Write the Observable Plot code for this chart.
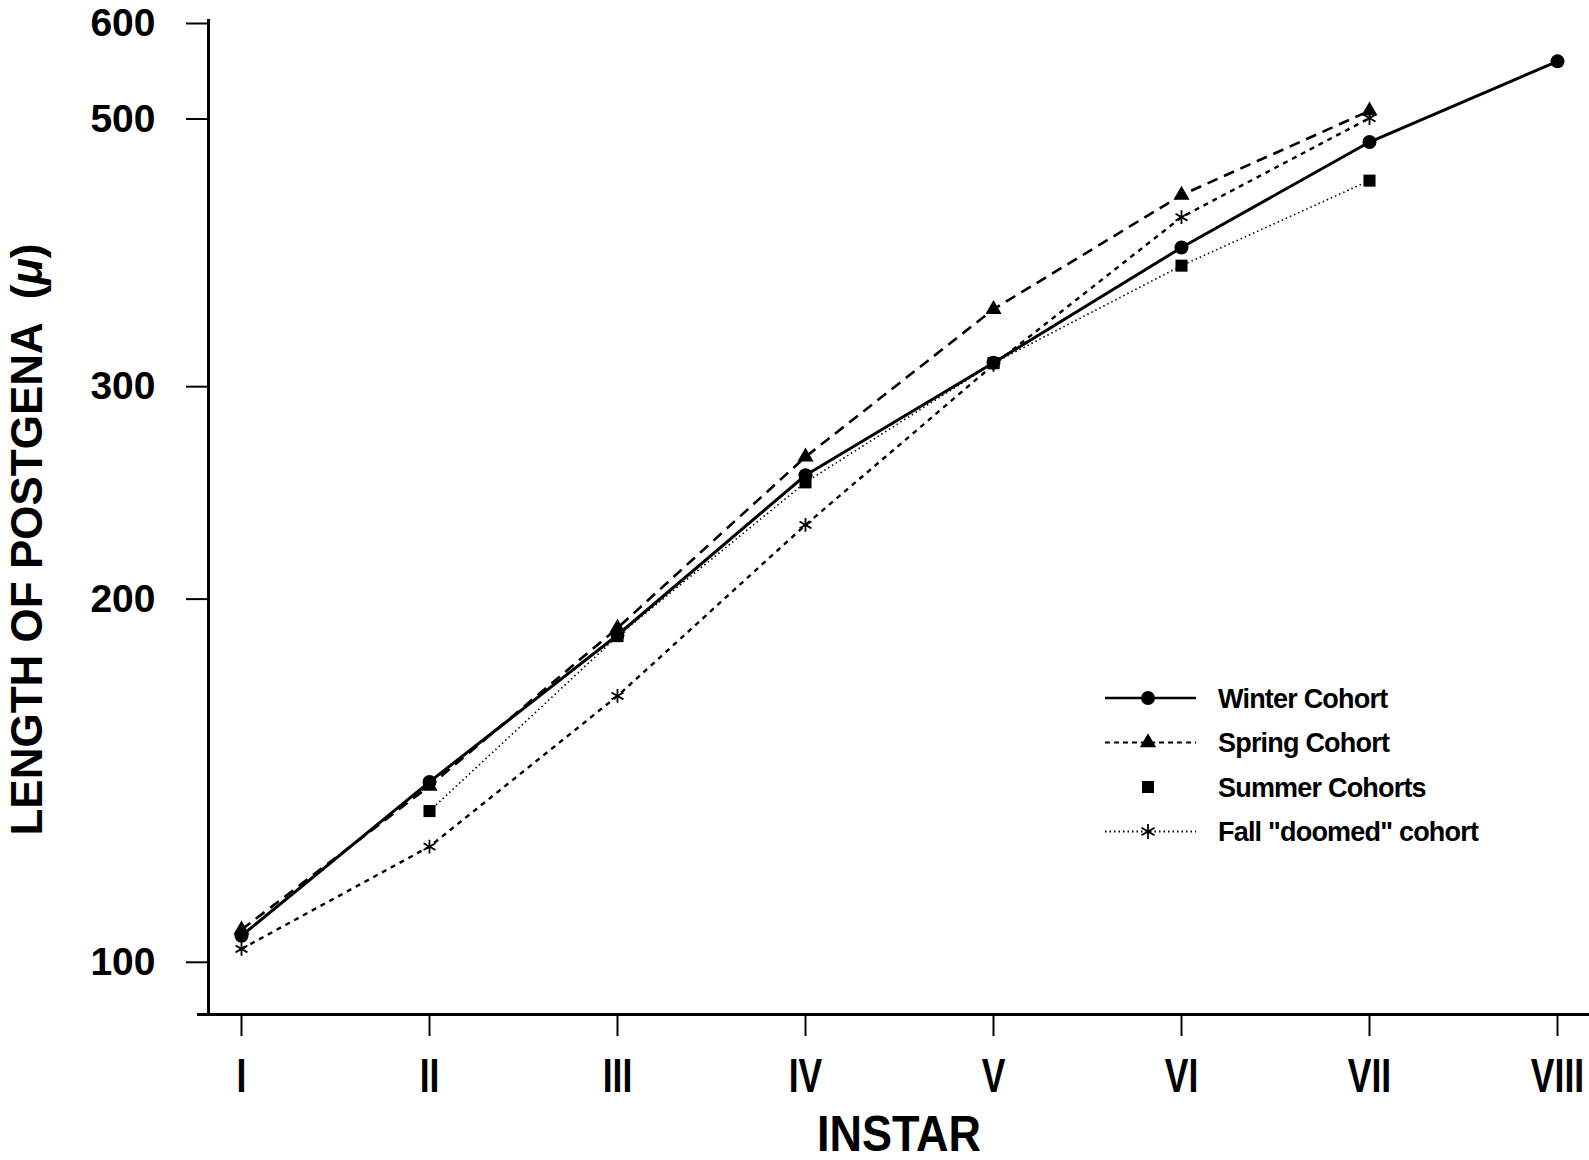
<!DOCTYPE html>
<html>
<head>
<meta charset="utf-8">
<script src="https://cdn.jsdelivr.net/npm/d3@7"></script>
<script src="https://cdn.jsdelivr.net/npm/@observablehq/plot@0.6"></script>
<style>
  html, body { margin: 0; padding: 0; background: white; }
  #wrap { position: relative; width: 1589px; height: 1160px; }
  #legend { position: absolute; left: 0; top: 0; pointer-events: none; }
</style>
</head>
<body>
<div id="wrap"></div>
<script>
// ---- data ----
const instars = ["I", "II", "III", "IV", "V", "VI", "VII", "VIII"];
const yTicks = [100, 200, 300, 500, 600];
const seriesNames = ["Winter Cohort", "Spring Cohort", "Summer Cohorts", "Fall \"doomed\" cohort"];
const winter = [104.6, 140.3, 185.7, 251.9, 312.2, 389, 475.8, 555];
const spring = [105.8, 139.2, 188.2, 260.9, 345.8, 430, 505];
const summer = [null, 132.7, 185.3, 248.5, 312, 375.8, 442];
const fall   = [102, 124, 165.3, 229.1, 311, 412.2, 498];
const seriesValues = [winter, spring, summer, fall];

// ---- styles (not data) ----
const styles = [
  {symbol: "circle",   r: 7,   fill: "black", stroke: "none", lw: 3,   dash: null,   legendDash: null,  legendLine: true},
  {symbol: "triangle", r: 6,   fill: "black", stroke: "none", lw: 2.6, dash: "11,7", legendDash: "5,4", legendLine: true},
  {symbol: "square",   r: 6.8, fill: "black", stroke: "none", lw: 1.6, dash: "1.5,3", legendDash: null, legendLine: false},
  {symbol: "asterisk", r: 6.5, fill: "none",  stroke: "black", lw: 2.4, dash: "5,5", legendDash: "1.5,3", legendLine: true}
];

const rows = [];
seriesNames.forEach((name, s) => {
  seriesValues[s].forEach((v, i) => {
    if (v != null) rows.push({series: name, s, instar: instars[i], value: v});
  });
});

const marks = [
  Plot.axisY(yTicks, {
    tickSize: 22, tickPadding: 31, fontSize: 39, fontWeight: "bold",
    tickFormat: d => String(d), strokeWidth: 2, label: null, dy: 3
  }),
  Plot.axisX({
    tickSize: 22, tickPadding: 21, fontSize: 48, fontWeight: "bold",
    strokeWidth: 2, label: null, className: "xticks"
  }),
  Plot.ruleY([90], {strokeWidth: 3, insetLeft: -11}),
  Plot.frame({anchor: "left", strokeWidth: 3}),
  Plot.text(["LENGTH OF POSTGENA  (μ)"], {
    frameAnchor: "left", rotate: -90, dx: -181, dy: 22,
    fontSize: 44, fontWeight: "bold", textAnchor: "middle", lineAnchor: "middle"
  }),
  Plot.text(["INSTAR"], {
    frameAnchor: "bottom", dy: 120, fontSize: 50, fontWeight: "bold",
    lineAnchor: "middle", textAnchor: "middle", className: "xtitle"
  })
];

// lines (draw lighter lines first)
[2, 3, 1, 0].forEach(s => {
  const st = styles[s];
  marks.push(Plot.line(rows.filter(d => d.s === s), {
    x: "instar", y: "value", stroke: "black", strokeWidth: st.lw,
    strokeDasharray: st.dash || undefined, strokeLinecap: "butt"
  }));
});
[2, 3, 1, 0].forEach(s => {
  const st = styles[s];
  marks.push(Plot.dot(rows.filter(d => d.s === s), {
    x: "instar", y: "value", symbol: st.symbol, r: st.r,
    fill: st.fill, stroke: st.stroke, strokeWidth: st.stroke === "none" ? 0 : 1.8
  }));
});

const chart = Plot.plot({
  width: 1589, height: 1160,
  marginLeft: 208, marginRight: 0, marginTop: 20, marginBottom: 146,
  style: {fontFamily: "'Liberation Sans', Arial, sans-serif", background: "white", color: "black"},
  x: {type: "point", domain: instars, range: [240, 1558], padding: 0},
  y: {type: "log", domain: [90, 600]},
  marks
});
document.getElementById("wrap").appendChild(chart);

// condense the x tick labels and x title (narrow typeface in the reference)
function condense(sel, k) {
  sel.each(function() {
    const t = d3.select(this);
    const tr = t.attr("transform") || "";
    t.attr("transform", tr + ` scale(${k},1)`);
  });
}
d3.select(chart).selectAll("g[aria-label='x-axis tick label'] text").call(condense, 0.74);
d3.select(chart).selectAll(".xtitle text").call(condense, 0.9);

// italic mu in the y title
d3.select(chart).selectAll("text").each(function() {
  const t = d3.select(this);
  if (t.text() === "LENGTH OF POSTGENA  (μ)") {
    t.text(null);
    t.append("tspan").text("LENGTH OF POSTGENA  (");
    t.append("tspan").attr("font-style", "italic").text("μ");
    t.append("tspan").text(")");
    t.attr("xml:space", "preserve").style("white-space", "pre");
  }
});

// ---- legend overlay ----
const leg = d3.select("#wrap").append("svg")
  .attr("id", "legend").attr("width", 1589).attr("height", 1160);
const symbolTypes = {circle: d3.symbolCircle, triangle: d3.symbolTriangle, square: d3.symbolSquare, asterisk: d3.symbolAsterisk};
const legX0 = 1105, legX1 = 1196, legMark = 1148, legText = 1218, legY0 = 698, legDy = 44.5;
seriesNames.forEach((name, s) => {
  const st = styles[s];
  const y = legY0 + s * legDy;
  const g = leg.append("g");
  if (st.legendLine) {
    g.append("line").attr("x1", legX0).attr("x2", legX1).attr("y1", y).attr("y2", y)
      .attr("stroke", "black").attr("stroke-width", s === 0 ? 2.5 : 2)
      .attr("stroke-dasharray", st.legendDash);
  }
  const size = s === 3 ? 160 : Math.PI * st.r * st.r;
  g.append("path").attr("d", d3.symbol(symbolTypes[st.symbol], size)())
    .attr("transform", `translate(${legMark},${y})`)
    .attr("fill", st.fill).attr("stroke", st.stroke).attr("stroke-width", st.stroke === "none" ? 0 : 1.8);
  g.append("text").attr("x", legText).attr("y", y).attr("dy", "0.36em")
    .attr("font-family", "'Liberation Sans', Arial, sans-serif").attr("font-weight", "bold")
    .attr("font-size", 27).attr("letter-spacing", -0.8).text(name);
});
</script>
</body>
</html>
